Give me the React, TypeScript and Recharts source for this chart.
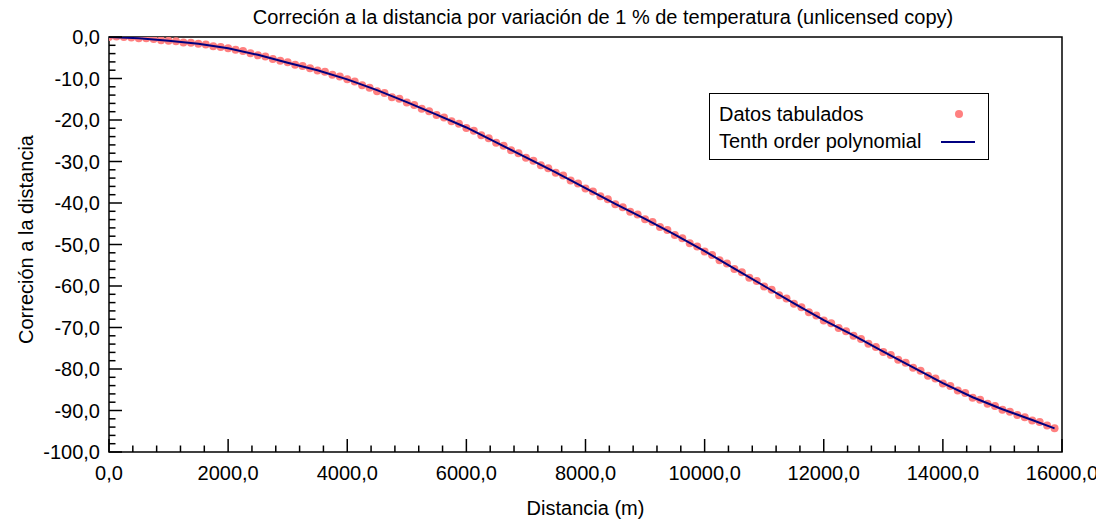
import React from 'react';
import { ComposedChart, Scatter, XAxis, YAxis, ReferenceArea, Legend } from 'recharts';

const TITLE = 'Correción a la distancia por variación de 1 % de temperatura (unlicensed copy)';
const FONT = '"Liberation Sans", Arial, sans-serif';

// tabulated points (m -> correction)
const distancia = [
  0, 125, 250, 375, 500, 625, 750, 875, 1000, 1125, 1250, 1375, 1500, 1625, 1750, 1875,
  2000, 2125, 2250, 2375, 2500, 2625, 2750, 2875, 3000, 3125, 3250, 3375, 3500, 3625, 3750, 3875,
  4000, 4125, 4250, 4375, 4500, 4625, 4750, 4875, 5000, 5125, 5250, 5375, 5500, 5625, 5750, 5875,
  6000, 6125, 6250, 6375, 6500, 6625, 6750, 6875, 7000, 7125, 7250, 7375, 7500, 7625, 7750, 7875,
  8000, 8125, 8250, 8375, 8500, 8625, 8750, 8875, 9000, 9125, 9250, 9375, 9500, 9625, 9750, 9875,
  10000, 10125, 10250, 10375, 10500, 10625, 10750, 10875, 11000, 11125, 11250, 11375, 11500, 11625, 11750, 11875,
  12000, 12125, 12250, 12375, 12500, 12625, 12750, 12875, 13000, 13125, 13250, 13375, 13500, 13625, 13750, 13875,
  14000, 14125, 14250, 14375, 14500, 14625, 14750, 14875, 15000, 15125, 15250, 15375, 15500, 15625, 15750, 15875,
];
const correccion = [
  0.0, 0.1, 0.0, -0.1, -0.3,
  -0.3, -0.5, -0.8, -0.9,
  -1.0, -1.3, -1.4, -1.6,
  -1.8, -2.2, -2.4, -2.7,
  -3.1, -3.4, -3.9, -4.4,
  -4.7, -5.3, -5.7, -6.1,
  -6.7, -7.0, -7.5, -8.1,
  -8.4, -9.1, -9.5, -10.2,
  -10.7, -11.6, -12.2, -13.1,
  -13.5, -14.5, -14.9, -15.8,
  -16.4, -17.3, -17.9, -18.8,
  -19.4, -20.3, -20.9, -21.9,
  -22.6, -23.7, -24.4, -25.5,
  -26.2, -27.3, -28.0, -29.1,
  -29.8, -30.9, -31.6, -32.7,
  -33.4, -34.6, -35.3, -36.5,
  -37.2, -38.4, -39.1, -40.3,
  -41.0, -42.1, -42.8, -43.9,
  -44.6, -45.8, -46.5, -47.7,
  -48.5, -49.7, -50.5, -51.7,
  -52.5, -53.8, -54.6, -55.9,
  -56.7, -58.0, -58.8, -60.1,
  -60.9, -62.2, -63.0, -64.3,
  -65.1, -66.3, -67.1, -68.3,
  -69.0, -70.1, -70.9, -72.0,
  -72.8, -73.9, -74.7, -75.9,
  -76.6, -77.8, -78.5, -79.7,
  -80.4, -81.6, -82.3, -83.5,
  -84.1, -85.2, -85.8, -86.9,
  -87.4, -88.4, -88.9, -89.8,
  -90.3, -91.1, -91.6, -92.4,
  -92.8, -93.6, -94.3,
];

// polynomial fit, sampled
const polyX = [
  0, 500, 1000, 1500, 2000, 2500, 3000, 3500, 4000, 4500, 5000, 5500, 6000, 6500, 7000, 7500,
  8000, 8500, 9000, 9500, 10000, 10500, 11000, 11500, 12000, 12500, 13000, 13500, 14000, 14500, 15000, 15500, 15875,
];
const polyY = [
  0.0, -0.3, -0.9, -1.6, -2.7, -4.3, -6.2, -8.0, -10.2, -12.8, -15.7, -18.7, -21.8, -25.4, -29.0, -32.6,
  -36.4, -40.2, -43.8, -47.6, -51.6, -55.8, -60.0, -64.2, -68.2, -71.9, -75.8, -79.6, -83.4, -86.8, -89.7, -92.3, -94.3,
];

const xTicks = [
  0, 400, 800, 1200, 1600, 2000, 2400, 2800, 3200, 3600, 4000, 4400, 4800, 5200, 5600, 6000,
  6400, 6800, 7200, 7600, 8000, 8400, 8800, 9200, 9600, 10000, 10400, 10800, 11200, 11600, 12000,
  12400, 12800, 13200, 13600, 14000, 14400, 14800, 15200, 15600, 16000,
];
const yTicks = [
  0, -2, -4, -6, -8, -10, -12, -14, -16, -18, -20, -22, -24, -26, -28, -30, -32, -34, -36, -38, -40,
  -42, -44, -46, -48, -50, -52, -54, -56, -58, -60, -62, -64, -66, -68, -70, -72, -74, -76, -78, -80,
  -82, -84, -86, -88, -90, -92, -94, -96, -98, -100,
];

const tabData = distancia.map((x, i) => ({ x, y: correccion[i] }));
const fitData = polyX.map((x, i) => ({ x, y: polyY[i] }));

const fmt = (v: number) => v.toFixed(1).replace('.', ',');

function XTick({ x, y, payload }: any) {
  const v = payload.value;
  const major = v % 2000 === 0;
  return (
    <g>
      <line x1={x} x2={x} y1={y} y2={y - (major ? 13 : 6.5)} stroke="#000" strokeWidth={1.5} />
      {major && (
        <text x={x} y={y + 28} textAnchor="middle" fontSize={20} fontFamily={FONT} fill="#000">
          {fmt(v)}
        </text>
      )}
    </g>
  );
}

function YTick({ x, y, payload }: any) {
  const v = payload.value;
  const major = v % 10 === 0;
  return (
    <g>
      <line x1={x} x2={x + (major ? 13 : 6.5)} y1={y} y2={y} stroke="#000" strokeWidth={1.5} />
      {major && (
        <text x={x - 9} y={y + 7} textAnchor="end" fontSize={20} fontFamily={FONT} fill="#000">
          {fmt(v)}
        </text>
      )}
    </g>
  );
}

function YTitle({ viewBox }: any) {
  const cx = 33;
  const cy = viewBox.y + viewBox.height / 2 - 5;
  return (
    <text x={cx} y={cy} transform={`rotate(-90 ${cx} ${cy})`} textAnchor="middle" fontSize={20} fontFamily={FONT} fill="#000">
      Correción a la distancia
    </text>
  );
}

function LegendBox({ payload }: any) {
  return (
    <div style={{ width: 278, height: 65, border: '1.5px solid #000', background: '#fff', fontFamily: FONT, fontSize: 20, position: 'relative' }}>
      {(payload || []).map((p: any, i: number) => (
        <div key={i} style={{ position: 'absolute', left: 9, top: 8 + i * 27, width: 262, height: 24, lineHeight: '24px' }}>
          <span>{p.value}</span>
          <svg width={36} height={24} style={{ position: 'absolute', right: 4, top: 0 }}>
            {p.type === 'circle'
              ? <circle cx={18} cy={12} r={4} fill="#FF8080" />
              : <line x1={0} x2={34} y1={13} y2={13} stroke="#000080" strokeWidth={2} />}
          </svg>
        </div>
      ))}
    </div>
  );
}

export default function App() {
  return (
    <div style={{ position: 'absolute', left: 0, top: 0, width: 1110, height: 526, background: '#fff' }}>
      <div style={{ position: 'absolute', left: 603, top: 6, transform: 'translateX(-50%)', whiteSpace: 'nowrap', fontFamily: FONT, fontSize: 20, color: '#000', zIndex: 2 }}>
        {TITLE}
      </div>
      <ComposedChart width={1096} height={526} margin={{ top: 37, right: 34, bottom: 0, left: 0 }}>
        <XAxis
          dataKey="x"
          type="number"
          domain={[0, 16000]}
          ticks={xTicks}
          interval={0}
          tick={<XTick />}
          tickLine={false}
          axisLine={false}
          tickSize={0}
          tickMargin={0}
          height={74}
          allowDataOverflow
          label={{ value: 'Distancia (m)', position: 'insideBottom', offset: 11, fontSize: 20, fontFamily: FONT, fill: '#000' }}
        />
        <YAxis
          dataKey="y"
          type="number"
          domain={[-100, 0]}
          ticks={yTicks}
          interval={0}
          tick={<YTick />}
          tickLine={false}
          axisLine={false}
          tickSize={0}
          tickMargin={0}
          width={109}
          allowDataOverflow
          label={<YTitle />}
        />
        <ReferenceArea x1={0} x2={16000} y1={-100} y2={0} fill="none" stroke="#000" strokeWidth={1.5} ifOverflow="visible" />
        <Legend
          layout="horizontal"
          verticalAlign="middle"
          content={<LegendBox />}
          wrapperStyle={{ position: 'absolute', left: 709, top: 93, width: 281, height: 68 }}
        />
        <Scatter
          name="Datos tabulados"
          data={tabData}
          dataKey="y"
          fill="#FF8080"
          legendType="circle"
          isAnimationActive={false}
          shape={(p: any) => <circle cx={p.cx} cy={p.cy} r={4} fill="#FF8080" />}
        />
        <Scatter
          name="Tenth order polynomial"
          data={fitData}
          dataKey="y"
          fill="#000080"
          line={{ stroke: '#000080', strokeWidth: 2 }}
          lineType="joint"
          legendType="line"
          isAnimationActive={false}
          shape={() => <g />}
        />
      </ComposedChart>
    </div>
  );
}
